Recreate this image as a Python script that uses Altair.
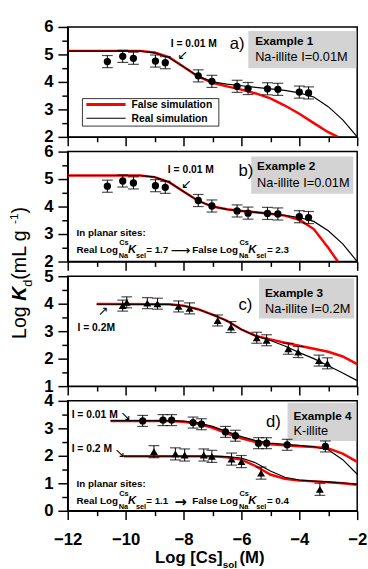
import altair as alt
import pandas as pd

FONT = "Liberation Sans"
W, H = 295, 112

# ---------------- data ----------------
# panels a & b : Na-illite I=0.01M (circles)
ab_x = [-10.63, -10.1, -9.73, -8.97, -8.63, -7.49, -7.02, -6.15, -5.77, -5.1, -4.74, -4.0, -3.68]
ab_y = [4.74, 4.93, 4.86, 4.76, 4.70, 4.22, 4.02, 3.84, 3.76, 3.75, 3.73, 3.63, 3.60]
ab_err = [0.22] * 13

a_red_x = [-12, -9.5, -9, -8.5, -8, -7.5, -7, -6.5, -6, -5.5, -5, -4.5, -4, -3.5, -3, -2.67]
a_red_y = [5.13, 5.13, 5.07, 4.9, 4.55, 4.2, 3.97, 3.84, 3.72, 3.58, 3.4, 3.14, 2.84, 2.5, 2.17, 2.0]
a_blk_x = [-12, -9.5, -9, -8.5, -8, -7.5, -7, -6.5, -6, -5.5, -5, -4.5, -4, -3.5, -3, -2.5, -2]
a_blk_y = [5.12, 5.12, 5.06, 4.88, 4.55, 4.21, 4.0, 3.92, 3.86, 3.8, 3.75, 3.69, 3.6, 3.45, 3.1, 2.62, 2.0]

b_red_x = [-12, -9.5, -9, -8.5, -8, -7.5, -7, -6.5, -6, -5.5, -5, -4.5, -4, -3.5, -3, -2.67]
b_red_y = [5.13, 5.13, 5.07, 4.89, 4.55, 4.21, 4.0, 3.9, 3.84, 3.79, 3.74, 3.67, 3.52, 3.18, 2.5, 2.0]
b_blk_x = [-12, -9.5, -9, -8.5, -8, -7.5, -7, -6.5, -6, -5.5, -5, -4.5, -4, -3.5, -3, -2.5, -2]
b_blk_y = [5.13, 5.13, 5.07, 4.89, 4.55, 4.21, 4.0, 3.9, 3.84, 3.79, 3.74, 3.68, 3.6, 3.46, 3.12, 2.64, 2.0]

# panel c : Na-illite I=0.2M (triangles)
c_x = [-10.1, -9.96, -9.25, -8.9, -8.17, -7.79, -6.82, -6.36, -5.47, -5.13, -4.38, -4.04, -3.32, -3.03]
c_y = [3.93, 4.05, 4.02, 4.0, 3.9, 3.83, 3.39, 3.15, 2.76, 2.67, 2.36, 2.24, 1.93, 1.83]
c_err = [0.2] * 14
c_blk_x = [-11, -8.5, -8, -7.5, -7, -6.5, -6, -5.5, -5, -4.5, -4, -3.5, -3, -2.5, -2]
c_blk_y = [3.98, 3.97, 3.92, 3.8, 3.6, 3.38, 3.06, 2.82, 2.66, 2.46, 2.22, 2.0, 1.74, 1.48, 1.2]
c_red_x = [-11, -8.5, -8, -7.5, -7, -6.5, -6, -5.5, -5, -4.5, -4, -3.5, -3, -2.5, -2]
c_red_y = [3.99, 3.98, 3.93, 3.8, 3.6, 3.38, 3.06, 2.83, 2.7, 2.58, 2.47, 2.36, 2.25, 2.08, 1.8]

# panel d : K-illite, I=0.01M (circles) and I=0.2M (triangles)
d1_x = [-9.41, -8.71, -8.41, -7.67, -7.38, -6.55, -6.21, -5.41, -5.13, -4.42, -3.1]
d1_y = [3.27, 3.30, 3.30, 3.21, 3.15, 2.87, 2.73, 2.46, 2.46, 2.40, 2.34]
d1_err = [0.2] * 11
d2_x = [-9.02, -8.28, -7.96, -7.3, -7.02, -6.34, -6.0, -5.32, -3.29]
d2_y = [2.15, 2.07, 2.03, 2.03, 1.98, 1.88, 1.79, 1.37, 0.78]
d2_err = [0.22] * 9
d1_cx = [-10.52, -8.5, -8, -7.5, -7, -6.5, -6, -5.5, -5, -4.5, -4, -3.5, -3, -2.5, -2]
d1_red_y = [3.27, 3.27, 3.24, 3.17, 3.02, 2.82, 2.64, 2.5, 2.42, 2.38, 2.35, 2.32, 2.27, 2.08, 1.78]
d1_blk_y = [3.28, 3.28, 3.26, 3.2, 3.07, 2.88, 2.7, 2.55, 2.46, 2.42, 2.38, 2.33, 2.22, 1.86, 1.33]
d2_cx = [-10.07, -7, -6.5, -6, -5.5, -5, -4.5, -4, -3.5, -3, -2.5, -2]
d2_red_y = [1.98, 1.98, 1.95, 1.86, 1.62, 1.32, 1.16, 1.1, 1.07, 1.04, 1.0, 0.95]
d2_blk_y = [1.99, 1.99, 1.97, 1.92, 1.74, 1.45, 1.22, 1.12, 1.08, 1.05, 1.01, 0.97]

x_major = [-12, -10, -8, -6, -4, -2]
x_minor = [-11, -9, -7, -5, -3]

ONE = alt.Data(values=[{"k": 0}])
XS = alt.Scale(domain=[-12, -2], nice=False, zero=False)


def x_axis_main(labels):
    return alt.Axis(orient="bottom", values=x_major, labels=labels, title=None, grid=False,
                    labelFont=FONT, labelFontSize=17, labelFontWeight="bold", labelColor="black",
                    labelPadding=12, labelFlush=False, labelOverlap=False,
                    tickSize=9, tickWidth=1.5, tickColor="black",
                    domainColor="black", domainWidth=1.5)


def x_axis_minor():
    return alt.Axis(orient="bottom", values=x_minor, labels=False, title=None, grid=False,
                    domain=False, tickSize=5, tickWidth=1.5, tickColor="black")


def y_axis_main(vals):
    return alt.Axis(orient="left", values=vals, title=None, grid=False,
                    labelFont=FONT, labelFontSize=17, labelFontWeight="bold", labelColor="black",
                    labelPadding=5, labelFlush=False, labelOverlap=False,
                    tickSize=10, tickWidth=1.5, tickColor="black",
                    domainColor="black", domainWidth=1.5)


def y_axis_minor(vals):
    return alt.Axis(orient="left", values=vals, labels=False, title=None, grid=False,
                    domain=False, tickSize=6, tickWidth=1.5, tickColor="black")


def curve(xs, ys, color, width, ys_scale, xaxis=None, yaxis=None):
    df = pd.DataFrame({"x": xs, "y": ys})
    return alt.Chart(df).mark_line(color=color, strokeWidth=width, clip=True).encode(
        x=alt.X("x:Q", scale=XS, axis=xaxis),
        y=alt.Y("y:Q", scale=ys_scale, axis=yaxis),
    )


def points(xs, ys, errs, shape, ys_scale, size):
    df = pd.DataFrame({"x": xs, "y": ys, "e": errs})
    base = alt.Chart(df).transform_calculate(lo="datum.y - datum.e", hi="datum.y + datum.e")
    X = alt.X("x:Q", scale=XS, axis=None)
    rule = base.mark_rule(color="black", strokeWidth=1).encode(
        x=X, y=alt.Y("lo:Q", scale=ys_scale, axis=None), y2="hi:Q")
    cap_lo = base.mark_tick(color="black", orient="horizontal", size=11, thickness=1.2).encode(
        x=X, y=alt.Y("lo:Q", scale=ys_scale, axis=None))
    cap_hi = base.mark_tick(color="black", orient="horizontal", size=11, thickness=1.2).encode(
        x=X, y=alt.Y("hi:Q", scale=ys_scale, axis=None))
    pts = base.mark_point(shape=shape, filled=True, color="black", opacity=1, size=size).encode(
        x=X, y=alt.Y("y:Q", scale=ys_scale, axis=None))
    return [rule, cap_lo, cap_hi, pts]


def txt(s, x, y, size=10.5, weight="bold", style="normal", align="left", angle=0,
        font=FONT, baseline="middle", color="black"):
    kw = dict(text=s, fontSize=size, fontWeight=weight, fontStyle=style, align=align,
              baseline=baseline, font=font, color=color)
    if angle:
        kw["angle"] = angle
    return alt.Chart(ONE).mark_text(**kw).encode(x=alt.value(x), y=alt.value(y))


def box(x1, x2, y1, y2, fill="#d3d3d3", stroke=None, sw=0):
    kw = dict(fill=fill)
    if stroke:
        kw.update(stroke=stroke, strokeWidth=sw)
    return alt.Chart(ONE).mark_rect(**kw).encode(
        x=alt.value(x1), x2=alt.value(x2), y=alt.value(y1), y2=alt.value(y2))


def hline(x1, x2, y, color, width):
    return alt.Chart(ONE).mark_rule(color=color, strokeWidth=width).encode(
        x=alt.value(x1), x2=alt.value(x2), y=alt.value(y))


KSEL_X = [9, 52.5, 61.5, 69.5, 80, 115, 127, 175, 184, 192, 203]


def ksel_line(y, val1, val2, arrow, arrow_size, arrow_weight):
    xs = KSEL_X
    fs = 10
    return [txt("Real Log", xs[0], y, size=fs),
            txt("Cs", xs[1], y - 7, size=7.5), txt("Na", xs[1] - 0.5, y + 6, size=7.5),
            txt("K", xs[2], y, size=11.5, style="italic"),
            txt("sel", xs[3], y + 6, size=7.5),
            txt("= " + val1, xs[4], y, size=fs),
            txt(arrow, xs[5], y + 1, size=arrow_size, font="DejaVu Sans", weight=arrow_weight,
                align="center"),
            txt("False Log", xs[6], y, size=fs),
            txt("Cs", xs[7], y - 7, size=7.5), txt("Na", xs[7] - 0.5, y + 6, size=7.5),
            txt("K", xs[8], y, size=11.5, style="italic"),
            txt("sel", xs[9], y + 6, size=7.5),
            txt("= " + val2, xs[10], y, size=fs)]


# ---------- panel a ----------
ya = alt.Scale(domain=[2, 6], nice=False, zero=False)
la = [
    box(184, 294, 4, 42),
    box(15, 154, 73, 101, fill="white", stroke="black", sw=0.8),
    hline(19, 59, 79, "red", 3),
    hline(19, 59, 93, "black", 1.2),
    curve(a_red_x, a_red_y, "red", 2.5, ya, x_axis_main(False), y_axis_main([2, 3, 4, 5, 6])),
    curve(a_blk_x, a_blk_y, "black", 1.2, ya, x_axis_minor(), y_axis_minor([2.5, 3.5, 4.5, 5.5])),
] + points(ab_x, ab_y, ab_err, "circle", ya, 55) + [
    txt("False simulation", 65, 80),
    txt("Real simulation", 65, 94),
    txt("I = 0.01 M", 105, 17),
    txt("\u2199", 117, 29, size=13, font="DejaVu Sans", weight="normal", align="center"),
    txt("a)", 165, 17, size=17, weight="normal"),
    txt("Example 1", 191, 14, size=12),
    txt("Na-illite I=0.01M", 191, 31, size=13, weight="normal"),
]
pa = alt.layer(*la).resolve_axis(x="independent", y="independent").properties(width=W, height=H)

# ---------- panel b ----------
yb = alt.Scale(domain=[2, 6], nice=False, zero=False)
lb = [
    box(187, 291, 5, 43),
    curve(b_red_x, b_red_y, "red", 2.5, yb, x_axis_main(False), y_axis_main([2, 3, 4, 5, 6])),
    curve(b_blk_x, b_blk_y, "black", 1.2, yb, x_axis_minor(), y_axis_minor([2.5, 3.5, 4.5, 5.5])),
] + points(ab_x, ab_y, ab_err, "circle", yb, 55) + [
    txt("I = 0.01 M", 102, 19),
    txt("\u2199", 121, 33, size=13, font="DejaVu Sans", weight="normal", align="center"),
    txt("b)", 174, 20, size=17, weight="normal"),
    txt("Example 2", 193, 15, size=12),
    txt("Na-illite I=0.01M", 193, 32, size=13, weight="normal"),
    txt("In planar sites:", 9, 83, size=10),
] + ksel_line(100, "1.7", "2.3", "\u27f6", 14, "normal")
pb = alt.layer(*lb).resolve_axis(x="independent", y="independent").properties(width=W, height=H)

# ---------- panel c ----------
yc = alt.Scale(domain=[1, 5], nice=False, zero=False)
lc = [
    box(195, 292, 2, 43),
    curve(c_red_x, c_red_y, "red", 2.5, yc, x_axis_main(False), y_axis_main([1, 2, 3, 4, 5])),
    curve(c_blk_x, c_blk_y, "black", 1.2, yc, x_axis_minor(), y_axis_minor([1.5, 2.5, 3.5, 4.5])),
] + points(c_x, c_y, c_err, "triangle-up", yc, 65) + [
    txt("I = 0.2M", 10, 53),
    txt("\u2197", 36, 36, size=13, font="DejaVu Sans", weight="normal", align="center"),
    txt("c)", 174, 29, size=17, weight="normal"),
    txt("Example 3", 201, 17, size=12),
    txt("Na-illite I=0.2M", 201, 33, size=13, weight="normal"),
    # y-axis title (spans panels b/c)
    txt("Log ", -48, 64, size=20, weight="normal", angle=270),
    txt("K", -48, 25, size=20, weight="bold", style="italic", angle=270),
    txt("d", -40, 10.7, size=13, weight="normal", angle=270),
    txt(" (mL g", -48, 3.5, size=20, weight="normal", angle=270),
    txt("-1", -55, -53.2, size=12, weight="normal", angle=270),
    txt(")", -48, -63.9, size=20, weight="normal", angle=270),
]
pc = alt.layer(*lc).resolve_axis(x="independent", y="independent").properties(width=W, height=H)

# ---------- panel d ----------
yd = alt.Scale(domain=[0, 4], nice=False, zero=False)
ld = [
    box(224, 294, 2, 41),
    curve(d1_cx, d1_red_y, "red", 2.5, yd, x_axis_main(True), y_axis_main([0, 1, 2, 3, 4])),
    curve(d1_cx, d1_blk_y, "black", 1.2, yd, x_axis_minor(), y_axis_minor([0.5, 1.5, 2.5, 3.5])),
    curve(d2_cx, d2_red_y, "red", 2.5, yd),
    curve(d2_cx, d2_blk_y, "black", 1.2, yd),
] + points(d1_x, d1_y, d1_err, "circle", yd, 55) + points(d2_x, d2_y, d2_err, "triangle-up", yd, 65) + [
    txt("I = 0.01 M", 4, 14),
    txt("\u2198", 59, 16, size=13, font="DejaVu Sans", weight="normal", align="center"),
    txt("I = 0.2 M", 4, 49),
    txt("\u2198", 53, 53, size=13, font="DejaVu Sans", weight="normal", align="center"),
    txt("d)", 202, 22, size=17, weight="normal"),
    txt("Example 4", 230, 16, size=12),
    txt("K-illite", 230, 31, size=13, weight="normal"),
    txt("In planar sites:", 9, 85, size=10),
    # x-axis title
    txt("Log [Cs]", 89, 160, size=17),
    txt("sol", 158, 167, size=10),
    txt("(M)", 175, 160, size=17),
] + ksel_line(102, "1.1", "0.4", "\u2192", 15, "bold")
pdd = alt.layer(*ld).resolve_axis(x="independent", y="independent").properties(width=W, height=H)

chart = alt.vconcat(pa, pb, pc, pdd, spacing=15, bounds="flush").resolve_scale(
    x="independent", y="independent"
).properties(
    padding={"left": 7, "top": 12, "right": 0, "bottom": 0},
    background="white",
).configure_view(stroke="black", strokeWidth=1.5)

chart.save("out.html", embed_options={"renderer": "svg", "actions": False})
